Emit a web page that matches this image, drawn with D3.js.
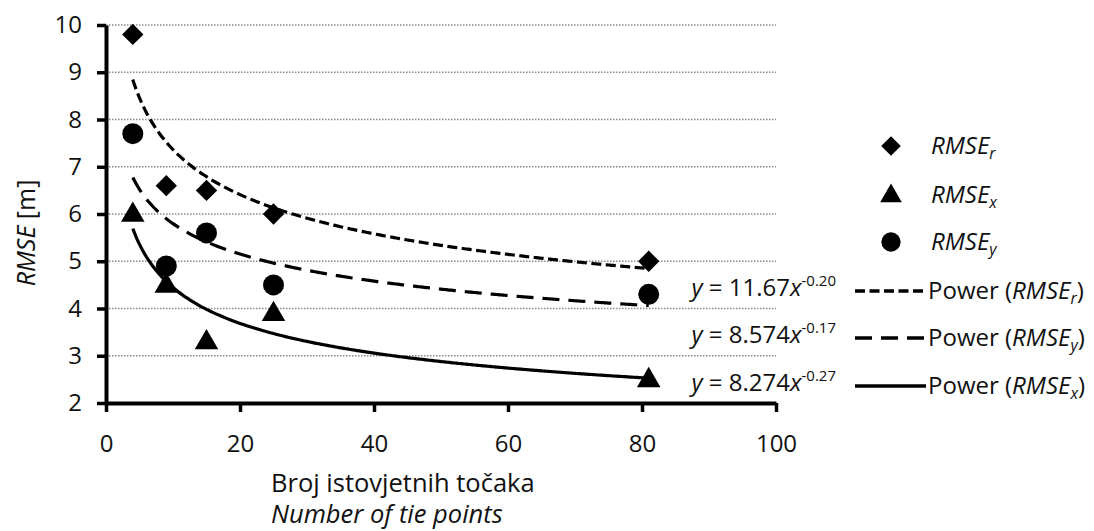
<!DOCTYPE html>
<html>
<head>
  <meta charset="utf-8">
  <title>RMSE vs number of tie points</title>
  <script src="https://d3js.org/d3.v7.min.js"></script>
  <style>
    body { margin: 0; background: #fff; }
    text { font-family: "Open Sans", Lato, sans-serif; fill: #111; }
  </style>
</head>
<body>
<div id="chart"></div>
<script>
  const w = 1094;
  const h = 531;

  // number of tie points
  const tiePoints = [4, 9, 15, 25, 81];
  const rmseR = [9.8, 6.6, 6.5, 6.0, 5.0];
  const rmseX = [6.0, 4.5, 3.3, 3.9, 2.5];
  const rmseY = [7.7, 4.9, 5.6, 4.5, 4.3];

  // power trendlines as printed on the chart: y = a * x^b
  const trendNames = ['r', 'y', 'x'];
  const trendA = [11.67, 8.574, 8.274];
  const trendB = [-0.20, -0.17, -0.27];
  const trendLabels = ['11.67', '8.574', '8.274'];
  const trendExp = ['-0.20', '-0.17', '-0.27'];

  const xTicks = [0, 20, 40, 60, 80, 100];
  const yTicks = [2, 3, 4, 5, 6, 7, 8, 9, 10];

  const xScale = d3.scaleLinear().domain([0, 100]).range([106, 776]);
  const yScale = d3.scaleLinear().domain([2, 10]).range([403, 25]);

  const svg = d3.select('#chart')
    .append('svg')
    .attr('width', w)
    .attr('height', h);

  // gridlines
  svg.append('g')
    .selectAll('line')
    .data(yTicks.filter(d => d > 2))
    .join('line')
    .attr('x1', xScale(0))
    .attr('x2', xScale(100))
    .attr('y1', d => yScale(d))
    .attr('y2', d => yScale(d))
    .attr('stroke', '#8a8a8a')
    .attr('stroke-width', 1.6)
    .attr('stroke-dasharray', '1.5,1.5');

  // axes
  const yAxis = svg.append('g')
    .attr('transform', `translate(${xScale(0)},0)`)
    .call(d3.axisLeft(yScale).tickValues(yTicks).tickSizeInner(9).tickSizeOuter(0).tickPadding(15));
  const xAxis = svg.append('g')
    .attr('transform', `translate(0,${yScale(2)})`)
    .call(d3.axisBottom(xScale).tickValues(xTicks).tickSizeInner(9).tickSizeOuter(0).tickPadding(23));

  [xAxis, yAxis].forEach(g => {
    g.select('.domain').attr('stroke', '#000').attr('stroke-width', 4);
    g.selectAll('.tick line').attr('stroke', '#000').attr('stroke-width', 3.5);
    g.selectAll('.tick text')
      .attr('font-family', '"Open Sans", sans-serif')
      .attr('font-size', 24)
      .attr('fill', '#111');
  });

  // trendlines
  const dashes = { r: '10,4.5', y: '17,9', x: null };
  const line = d3.line()
    .x(d => xScale(d[0]))
    .y(d => yScale(d[1]))
    .curve(d3.curveMonotoneX);

  const xMin = d3.min(tiePoints);
  const xMax = d3.max(tiePoints);
  trendNames.forEach((name, i) => {
    const pts = d3.range(xMin, xMax + 0.01, 0.5).map(x => [x, trendA[i] * Math.pow(x, trendB[i])]);
    svg.append('path')
      .datum(pts)
      .attr('d', line)
      .attr('fill', 'none')
      .attr('stroke', '#000')
      .attr('stroke-width', 3.2)
      .attr('stroke-dasharray', dashes[name]);
  });

  // markers
  const diamond = d3.symbol().type(d3.symbolDiamond2).size(290);
  const triangle = d3.symbol().type(d3.symbolTriangle).size(240);

  const seriesSymbols = [
    { vals: rmseR, shape: 'diamond' },
    { vals: rmseX, shape: 'triangle' },
    { vals: rmseY, shape: 'circle' }
  ];

  function drawMarker(g, shape, cx, cy, scale) {
    if (shape === 'circle') {
      g.append('circle').attr('cx', cx).attr('cy', cy).attr('r', 10.5 * scale).attr('fill', '#000');
    } else if (shape === 'diamond') {
      g.append('path').attr('d', diamond).attr('transform', `translate(${cx},${cy}) scale(${scale})`).attr('fill', '#000');
    } else {
      g.append('path').attr('d', triangle).attr('transform', `translate(${cx},${cy + 1}) scale(${scale})`).attr('fill', '#000');
    }
  }

  const markerG = svg.append('g');
  seriesSymbols.forEach(s => {
    s.vals.forEach((v, j) => drawMarker(markerG, s.shape, xScale(tiePoints[j]), yScale(v), 1));
  });

  // axis titles
  const yTitle = svg.append('text')
    .attr('transform', 'translate(35,233) rotate(-90)')
    .attr('text-anchor', 'middle')
    .attr('font-size', 25);
  yTitle.append('tspan').attr('font-style', 'italic').text('RMSE');
  yTitle.append('tspan').text(' [m]');

  svg.append('text')
    .attr('x', 271).attr('y', 492)
    .attr('font-size', 25.5)
    .text('Broj istovjetnih točaka');
  svg.append('text')
    .attr('x', 271).attr('y', 523)
    .attr('font-size', 25.5)
    .attr('font-style', 'italic')
    .text('Number of tie points');

  // helper for RMSE with subscript
  function rmseLabel(t, sub, size) {
    t.append('tspan').attr('font-style', 'italic').text('RMSE');
    t.append('tspan').attr('font-style', 'italic').attr('font-size', size * 0.66).attr('dy', 5).text(sub);
  }

  // legend: markers
  const legendShapes = ['diamond', 'triangle', 'circle'];
  const legendSubs = ['r', 'x', 'y'];
  const legendY = [146, 195, 242];
  legendShapes.forEach((shape, i) => {
    drawMarker(svg, shape, 891, legendY[i], 0.92);
    const t = svg.append('text')
      .attr('x', 931).attr('y', legendY[i] + 8)
      .attr('font-size', 24);
    rmseLabel(t, legendSubs[i], 24);
  });

  // legend: trendlines and equations
  const trendY = [291, 338, 386];
  trendNames.forEach((name, i) => {
    svg.append('line')
      .attr('x1', 855).attr('x2', 926)
      .attr('y1', trendY[i]).attr('y2', trendY[i])
      .attr('stroke', '#000').attr('stroke-width', 3.5)
      .attr('stroke-dasharray', dashes[name]);
    const t = svg.append('text')
      .attr('x', 928).attr('y', trendY[i] + 8)
      .attr('font-size', 24);
    t.append('tspan').text('Power (');
    rmseLabel(t, name, 24);
    t.append('tspan').attr('dy', -5).text(')');

    const eq = svg.append('text')
      .attr('x', 836).attr('y', trendY[i] + 5)
      .attr('text-anchor', 'end')
      .attr('font-size', 24);
    eq.append('tspan').attr('font-style', 'italic').text('y');
    eq.append('tspan').text(` = ${trendLabels[i]}`);
    eq.append('tspan').attr('font-style', 'italic').text('x');
    eq.append('tspan').attr('font-size', 15).attr('dy', -10).text(trendExp[i]);
  });
</script>
</body>
</html>
